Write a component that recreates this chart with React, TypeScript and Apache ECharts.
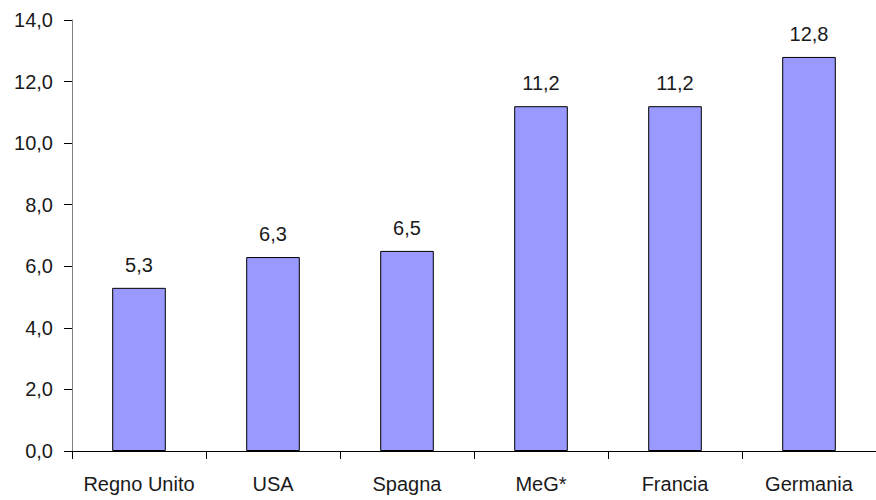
import React, { useEffect, useRef } from "react";
import * as echarts from "echarts";

const categories = ["Regno Unito", "USA", "Spagna", "MeG*", "Francia", "Germania"];
const values = [5.3, 6.3, 6.5, 11.2, 11.2, 12.8];
const yMin = 0;
const yMax = 14;
const yInterval = 2;

const FONT = "'Liberation Sans', Arial, sans-serif";
const fmt = (v: number) => v.toFixed(1).replace(".", ",");

export default function App() {
  const ref = useRef<HTMLDivElement>(null);
  useEffect(() => {
    if (!ref.current) return;
    const chart = echarts.init(ref.current, null, { renderer: "svg" });
    chart.setOption({
      animation: false,
      backgroundColor: "#ffffff",
      grid: { left: 72, top: 20, right: -12, bottom: 49, containLabel: false },
      xAxis: {
        type: "category",
        data: categories,
        boundaryGap: true,
        axisLine: { show: true, lineStyle: { color: "#000000", width: 1 } },
        axisTick: { show: true, alignWithLabel: false, length: 8, lineStyle: { color: "#000000" } },
        axisLabel: {
          interval: 0,
          margin: 23,
          color: "#1a1a1a",
          fontFamily: FONT,
          fontSize: 20,
        },
      },
      yAxis: {
        type: "value",
        min: yMin,
        max: yMax,
        interval: yInterval,
        splitLine: { show: false },
        axisLine: { show: true, lineStyle: { color: "#808080", width: 1 } },
        axisTick: { show: true, length: 8, lineStyle: { color: "#000000" } },
        axisLabel: {
          margin: 19,
          color: "#1a1a1a",
          fontFamily: FONT,
          fontSize: 20,
          formatter: (v: number) => fmt(v),
        },
      },
      series: [
        {
          type: "bar",
          data: values,
          barWidth: "40%",
          itemStyle: { color: "#9999FF", borderColor: "#000000", borderWidth: 1 },
          label: {
            show: true,
            position: "top",
            distance: 13,
            color: "#1a1a1a",
            fontFamily: FONT,
            fontSize: 20,
            formatter: (p: any) => fmt(p.value),
          },
        },
      ],
    });
    return () => chart.dispose();
  }, []);
  return (
    <div
      ref={ref}
      style={{ position: "fixed", left: 0, top: 0, width: 876, height: 500, background: "#fff" }}
    />
  );
}
